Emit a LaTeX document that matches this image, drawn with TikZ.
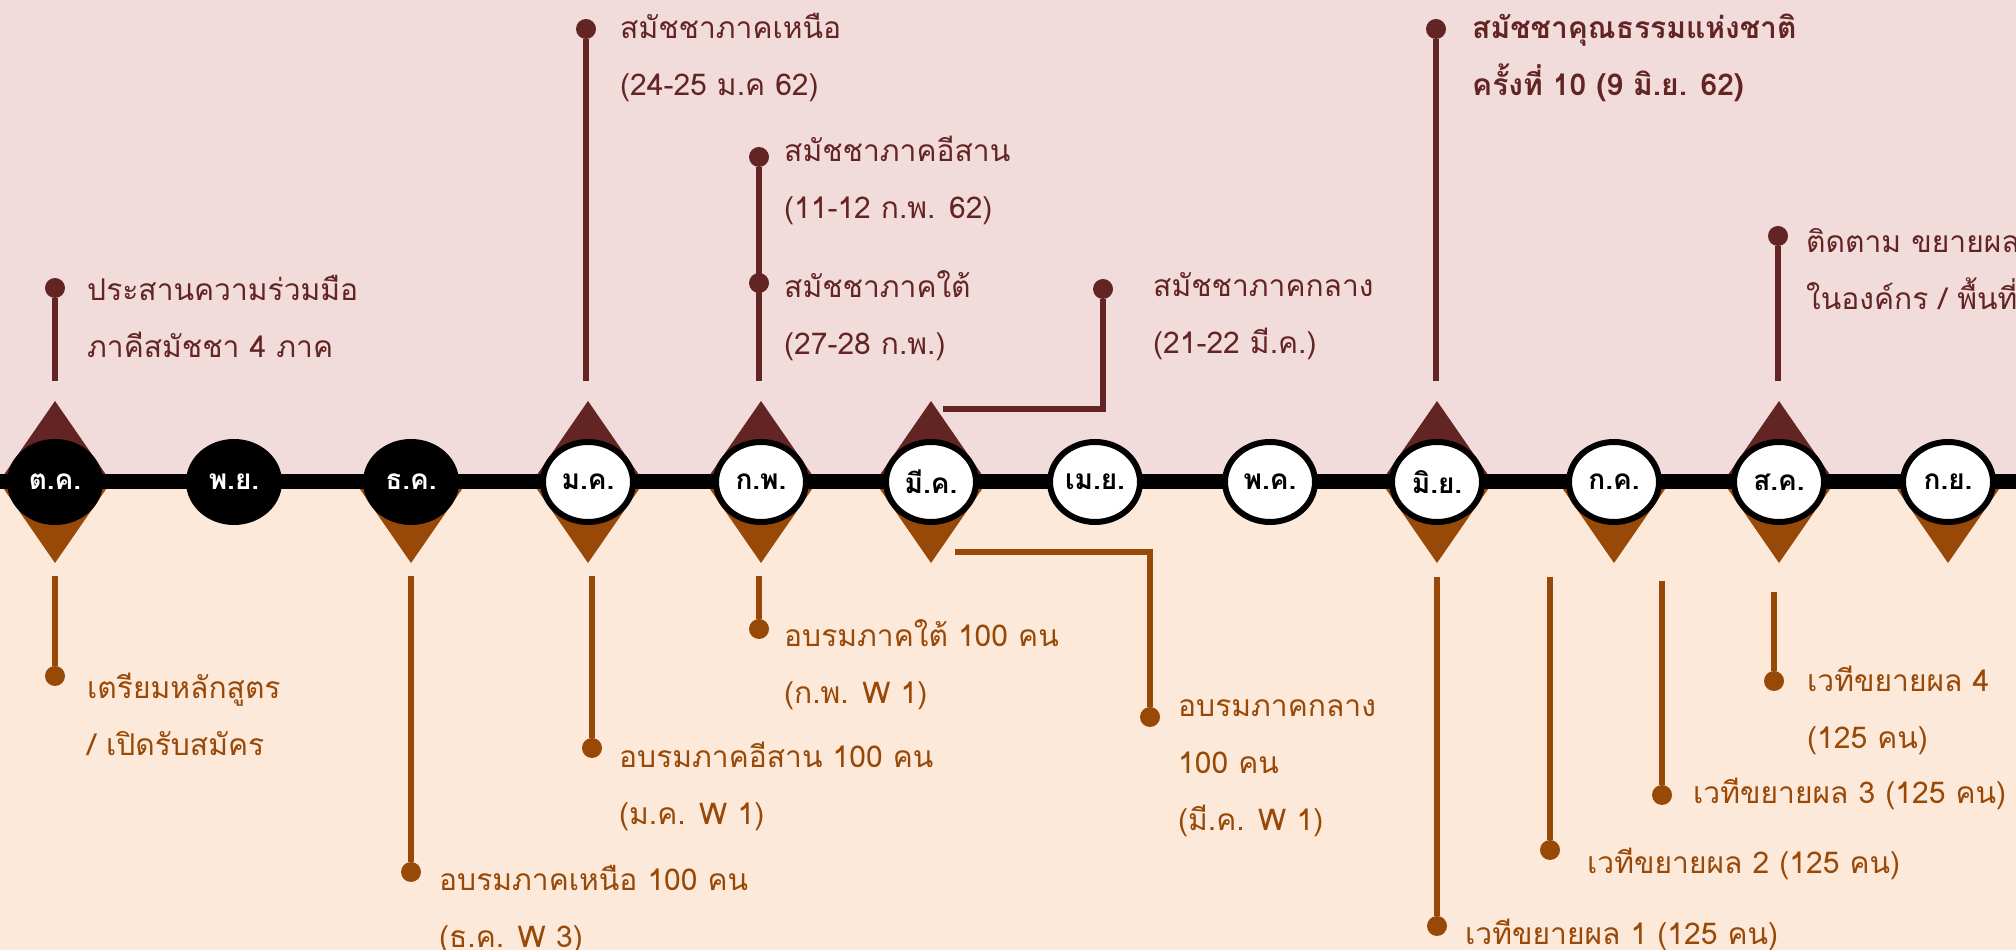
\documentclass[tikz,border=0pt]{standalone}
\usepackage{fontspec}
\newfontfamily\thaifont[Script=Thai]{Loma}
\usetikzlibrary{shapes.geometric}
\definecolor{upc}{HTML}{632523}
\definecolor{dnc}{HTML}{984807}
\definecolor{upbg}{HTML}{F2DCDB}
\definecolor{dnbg}{HTML}{FDE9D9}

\begin{document}
\begin{tikzpicture}[x=1pt, y=1pt,
  month/.style={ellipse, minimum width=90pt, minimum height=80pt, line width=6pt, draw=black, fill=white, inner sep=0pt, font=\thaifont\bfseries\fontsize{28}{30}\selectfont},
  past/.style={month, fill=black, text=white},
  stemup/.style={upc, line width=6pt},
  stemdn/.style={dnc, line width=6pt},
  dotup/.style={circle, fill=upc, minimum size=20pt, inner sep=0pt},
  dotdn/.style={circle, fill=dnc, minimum size=20pt, inner sep=0pt},
  txt/.style={anchor=west, align=left, inner sep=0pt, font=\thaifont\fontsize{30}{57}\selectfont},
  txtup/.style={txt, text=upc},
  txtdn/.style={txt, text=dnc}]
\useasboundingbox (0,0) rectangle (2016,950);
\clip (0,0) rectangle (2016,950);
\fill [upbg] (0,468) rectangle (2016,950);
\fill [dnbg] (0,0) rectangle (2016,468);

% diamonds
\fill [upc, shift={(55,468)}] (-56,0) -- (0,81) -- (56,0) -- cycle;
\fill [dnc, shift={(55,468)}] (-56,0) -- (0,-81) -- (56,0) -- cycle;
\fill [dnc, shift={(411,468)}] (-56,0) -- (0,-81) -- (56,0) -- cycle;
\fill [upc, shift={(588,468)}] (-56,0) -- (0,81) -- (56,0) -- cycle;
\fill [dnc, shift={(588,468)}] (-56,0) -- (0,-81) -- (56,0) -- cycle;
\fill [upc, shift={(761,468)}] (-56,0) -- (0,81) -- (56,0) -- cycle;
\fill [dnc, shift={(761,468)}] (-56,0) -- (0,-81) -- (56,0) -- cycle;
\fill [upc, shift={(931,468)}] (-56,0) -- (0,81) -- (56,0) -- cycle;
\fill [dnc, shift={(931,468)}] (-56,0) -- (0,-81) -- (56,0) -- cycle;
\fill [upc, shift={(1437,468)}] (-56,0) -- (0,81) -- (56,0) -- cycle;
\fill [dnc, shift={(1437,468)}] (-56,0) -- (0,-81) -- (56,0) -- cycle;
\fill [dnc, shift={(1614,468)}] (-56,0) -- (0,-81) -- (56,0) -- cycle;
\fill [upc, shift={(1779,468)}] (-56,0) -- (0,81) -- (56,0) -- cycle;
\fill [dnc, shift={(1779,468)}] (-56,0) -- (0,-81) -- (56,0) -- cycle;
\fill [dnc, shift={(1948,468)}] (-56,0) -- (0,-81) -- (56,0) -- cycle;

% axis
\coordinate (axl) at (0,468);
\coordinate (axr) at (2016,468);
\draw [line width=6pt, black!35, opacity=.6, yshift=-9pt] (axl) -- (axr);
\draw [line width=15pt] (axl) -- (axr);

% months
\node [past] (oct) at (55,468) {ต.ค.};
\node [past] (nov) at (234,468) {พ.ย.};
\node [past] (dec) at (411,468) {ธ.ค.};
\node [month] (jan) at (588,468) {ม.ค.};
\node [month] (feb) at (761,468) {ก.พ.};
\node [month] (mar) at (931,468) {มี.ค.};
\node [month] (apr) at (1095,468) {เม.ย.};
\node [month] (may) at (1270,468) {พ.ค.};
\node [month] (jun) at (1437,468) {มิ.ย.};
\node [month] (jul) at (1614,468) {ก.ค.};
\node [month] (aug) at (1779,468) {ส.ค.};
\node [month] (sep) at (1948,468) {ก.ย.};

% upper events
\coordinate (ta) at (55,569);
\coordinate (tb) at (586,569);
\coordinate (tc) at (759,569);
\coordinate (te) at (943,541);
\coordinate (tf) at (1436,569);
\coordinate (tg) at (1778,569);
\node [dotup] (da) at (55,662) {};
\node [dotup] (db) at (586,921) {};
\node [dotup] (dc) at (759,793) {};
\node [dotup] (de) at (1103,661) {};
\node [dotup] (df) at (1436,921) {};
\node [dotup] (dg) at (1778,714) {};
\draw [stemup] (da) -- (ta);
\draw [stemup] (db) -- (tb);
\draw [stemup] (dc) -- (tc);
\draw [stemup] (de) |- (te);
\draw [stemup] (df) -- (tf);
\draw [stemup] (dg) -- (tg);
\node [dotup] (dd) at (759,667) {};
\node [txtup] (la) at (87,634) {ประสานความร่วมมือ\\ภาคีสมัชชา 4 ภาค};
\node [txtup] (lb) at (620,892) {สมัชชาภาคเหนือ\\(24-25 ม.ค 62)};
\node [txtup] (lc) at (784,770) {สมัชชาภาคอีสาน\\(11-12 ก.พ. 62)};
\node [txtup] (ld) at (784,634) {สมัชชาภาคใต้\\(27-28 ก.พ.)};
\node [txtup] (le) at (1153,634) {สมัชชาภาคกลาง\\(21-22 มี.ค.)};
\node [txtup, font=\thaifont\bfseries\fontsize{30}{57}\selectfont] (lf) at (1472,892) {สมัชชาคุณธรรมแห่งชาติ\\ครั้งที่ 10 (9 มิ.ย. 62)};
\node [txtup] (lg) at (1806,681) {ติดตาม ขยายผล\\ในองค์กร / พื้นที่};

% lower events
\coordinate (ba) at (55,374);
\coordinate (bb) at (411,374);
\coordinate (bc) at (592,374);
\coordinate (bd) at (759,374);
\coordinate (be) at (955,398);
\coordinate (bf) at (1437,373);
\coordinate (bg) at (1550,373);
\coordinate (bh) at (1662,369);
\coordinate (bi) at (1774,358);
\node [dotdn] (ea) at (55,274) {};
\node [dotdn] (eb) at (411,78) {};
\node [dotdn] (ec) at (592,202) {};
\node [dotdn] (ed) at (759,321) {};
\node [dotdn] (ee) at (1150,233) {};
\node [dotdn] (ef) at (1437,24) {};
\node [dotdn] (eg) at (1550,100) {};
\node [dotdn] (eh) at (1662,155) {};
\node [dotdn] (ei) at (1774,269) {};
\draw [stemdn] (ea) -- (ba);
\draw [stemdn] (eb) -- (bb);
\draw [stemdn] (ec) -- (bc);
\draw [stemdn] (ed) -- (bd);
\draw [stemdn] (ee) |- (be);
\draw [stemdn] (ef) -- (bf);
\draw [stemdn] (eg) -- (bg);
\draw [stemdn] (eh) -- (bh);
\draw [stemdn] (ei) -- (bi);
\node [txtdn] (ma) at (87,236) {เตรียมหลักสูตร\\/ เปิดรับสมัคร};
\node [txtdn] (mb) at (439,40) {อบรมภาคเหนือ 100 คน\\(ธ.ค. W 3)};
\node [txtdn] (mc) at (619,164) {อบรมภาคอีสาน 100 คน\\(ม.ค. W 1)};
\node [txtdn] (md) at (784,285) {อบรมภาคใต้ 100 คน\\(ก.พ. W 1)};
\node [txtdn] (me) at (1178,182) {อบรมภาคกลาง\\100 คน\\(มี.ค. W 1)};
\node [txtdn] (mf) at (1465,15) {เวทีขยายผล 1 (125 คน)};
\node [txtdn] (mg) at (1587,86) {เวทีขยายผล 2 (125 คน)};
\node [txtdn] (mh) at (1693,156) {เวทีขยายผล 3 (125 คน)};
\node [txtdn] (mi) at (1807,240) {เวทีขยายผล 4\\(125 คน)};
\end{tikzpicture}
\end{document}
